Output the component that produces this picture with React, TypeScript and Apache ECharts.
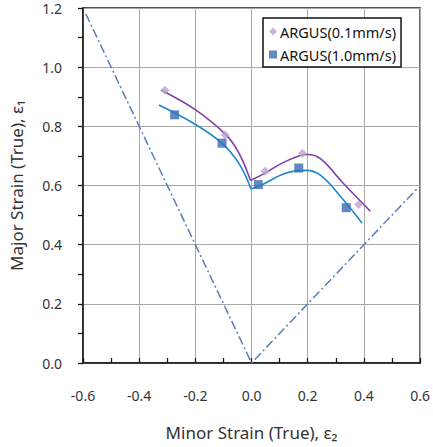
import React, { useEffect, useRef } from "react";
import * as echarts from "echarts";

const xTicks = [-0.6, -0.4, -0.2, 0.0, 0.2, 0.4, 0.6];
const yTicks = [0.0, 0.2, 0.4, 0.6, 0.8, 1.0, 1.2];

const seriesNames = ["ARGUS(0.1mm/s)", "ARGUS(1.0mm/s)"];

// measured points
const slowPoints: [number, number][] = [
  [-0.308, 0.922],
  [-0.094, 0.771],
  [0.048, 0.648],
  [0.181, 0.709],
  [0.381, 0.536],
];
const fastPoints: [number, number][] = [
  [-0.274, 0.839],
  [-0.105, 0.743],
  [0.024, 0.603],
  [0.168, 0.659],
  [0.337, 0.525],
];

// fitted curves (two branches each, meeting at a cusp)
const slowCurveLeft: [number, number][] = [
  [-0.323, 0.923],
  [-0.203, 0.858],
  [-0.091, 0.771],
  [-0.044, 0.708],
  [-0.004, 0.617],
];
const slowCurveRight: [number, number][] = [
  [-0.004, 0.617],
  [0.045, 0.64],
  [0.116, 0.679],
  [0.2, 0.705],
  [0.246, 0.69],
  [0.328, 0.606],
  [0.423, 0.513],
];
const fastCurveLeft: [number, number][] = [
  [-0.33, 0.872],
  [-0.203, 0.808],
  [-0.103, 0.741],
  [-0.044, 0.673],
  [-0.002, 0.588],
];
const fastCurveRight: [number, number][] = [
  [-0.002, 0.588],
  [0.045, 0.606],
  [0.116, 0.64],
  [0.194, 0.651],
  [0.246, 0.634],
  [0.328, 0.55],
  [0.393, 0.473],
];

// strain path reference lines
const strainPath: [number, number][] = [
  [-0.59, 1.18],
  [0, 0],
  [0.59, 0.59],
];

const FONT = "'Noto Sans', 'DejaVu Sans', sans-serif";

const isMajor = (v: number) => Math.abs(Math.round(v * 10)) % 2 === 0;

export default function App() {
  const ref = useRef<HTMLDivElement>(null);
  useEffect(() => {
    document.body.style.margin = "0";
    const chart = echarts.init(ref.current!, null, { renderer: "svg" });
    const xMin = xTicks[0];
    const xMax = xTicks[xTicks.length - 1];
    const yMin = yTicks[0];
    const yMax = yTicks[yTicks.length - 1];
    const curveStyle = (color: string) => ({
      type: "line" as const,
      smooth: 0.4,
      showSymbol: false,
      symbol: "none",
      lineStyle: { color, width: 1.6 },
      z: 3,
      silent: true,
    });
    const gridAxis = (min: number, max: number) => ({
      type: "value" as const,
      min,
      max,
      interval: 0.2,
      axisLine: { show: false },
      axisTick: { show: false },
      axisLabel: { show: false },
      splitLine: { show: true, lineStyle: { color: "#a8a8a8", width: 1 } },
    });
    chart.setOption({
      animation: false,
      backgroundColor: "#fff",
      textStyle: { fontFamily: FONT },
      grid: {
        left: 83,
        right: 11,
        top: 8,
        bottom: 84,
        show: true,
        borderColor: "#1a1a1a",
        borderWidth: 1.5,
      },
      legend: {
        data: [
          { name: seriesNames[0], icon: "diamond", itemStyle: { color: "#b9a3d3" } },
          { name: seriesNames[1], icon: "rect", itemStyle: { color: "#3a6db3" } },
        ],
        orient: "vertical",
        left: 263,
        top: 18,
        itemWidth: 8,
        itemHeight: 8,
        itemGap: 8,
        padding: [6, 5, 5, 6],
        borderColor: "#111",
        borderWidth: 1.5,
        backgroundColor: "#fff",
        textStyle: { fontSize: 14.5, color: "#111", fontFamily: FONT, padding: [0, 0, 0, -2] },
      },
      xAxis: [
        {
          type: "value",
          min: xMin,
          max: xMax,
          interval: 0.1,
          name: "Minor Strain (True), ε₂",
          nameLocation: "middle",
          nameGap: 61,
          nameTextStyle: { fontSize: 17, color: "#333", fontFamily: FONT },
          axisLine: { show: true, onZero: false, lineStyle: { color: "#1a1a1a", width: 1.5 } },
          axisTick: { show: true, inside: true, length: 5, lineStyle: { color: "#1a1a1a", width: 1.3 } },
          axisLabel: {
            margin: 25,
            fontSize: 14,
            color: "#333",
            formatter: (v: number) => (isMajor(v) ? v.toFixed(1) : ""),
          },
          splitLine: { show: false },
        },
        gridAxis(xMin, xMax),
      ],
      yAxis: [
        {
          type: "value",
          min: yMin,
          max: yMax,
          interval: 0.1,
          position: "left",
          name: "Major Strain (True), ε₁",
          nameLocation: "middle",
          nameGap: 58,
          nameTextStyle: { fontSize: 17, color: "#333", fontFamily: FONT },
          axisLine: { show: true, onZero: false, lineStyle: { color: "#1a1a1a", width: 1.5 } },
          axisTick: { show: true, inside: false, length: 5, lineStyle: { color: "#1a1a1a", width: 1.3 } },
          axisLabel: {
            margin: 21,
            fontSize: 14,
            color: "#333",
            formatter: (v: number) => (isMajor(v) ? v.toFixed(1) : ""),
          },
          splitLine: { show: false },
        },
        gridAxis(yMin, yMax),
      ],
      series: [
        {
          name: "strain path",
          type: "line",
          data: strainPath,
          symbol: "none",
          lineStyle: { color: "#5a7db8", width: 1.5, type: [9, 3, 2, 3] },
          z: 2,
          silent: true,
        },
        { name: "slowFitL", data: slowCurveLeft, ...curveStyle("#7d3fa6") },
        { name: "slowFitR", data: slowCurveRight, ...curveStyle("#7d3fa6") },
        { name: "fastFitL", data: fastCurveLeft, ...curveStyle("#1c88cf") },
        { name: "fastFitR", data: fastCurveRight, ...curveStyle("#1c88cf") },
        {
          name: seriesNames[0],
          type: "scatter",
          data: slowPoints,
          symbol: "diamond",
          symbolSize: 9,
          itemStyle: { color: "#b9a3d3" },
          z: 4,
        },
        {
          name: seriesNames[1],
          type: "scatter",
          data: fastPoints,
          symbol: "rect",
          symbolSize: 9,
          itemStyle: { color: "#3a6db3" },
          z: 4,
        },
      ],
    });
    return () => chart.dispose();
  }, []);
  return <div ref={ref} style={{ width: 433, height: 447 }} />;
}
